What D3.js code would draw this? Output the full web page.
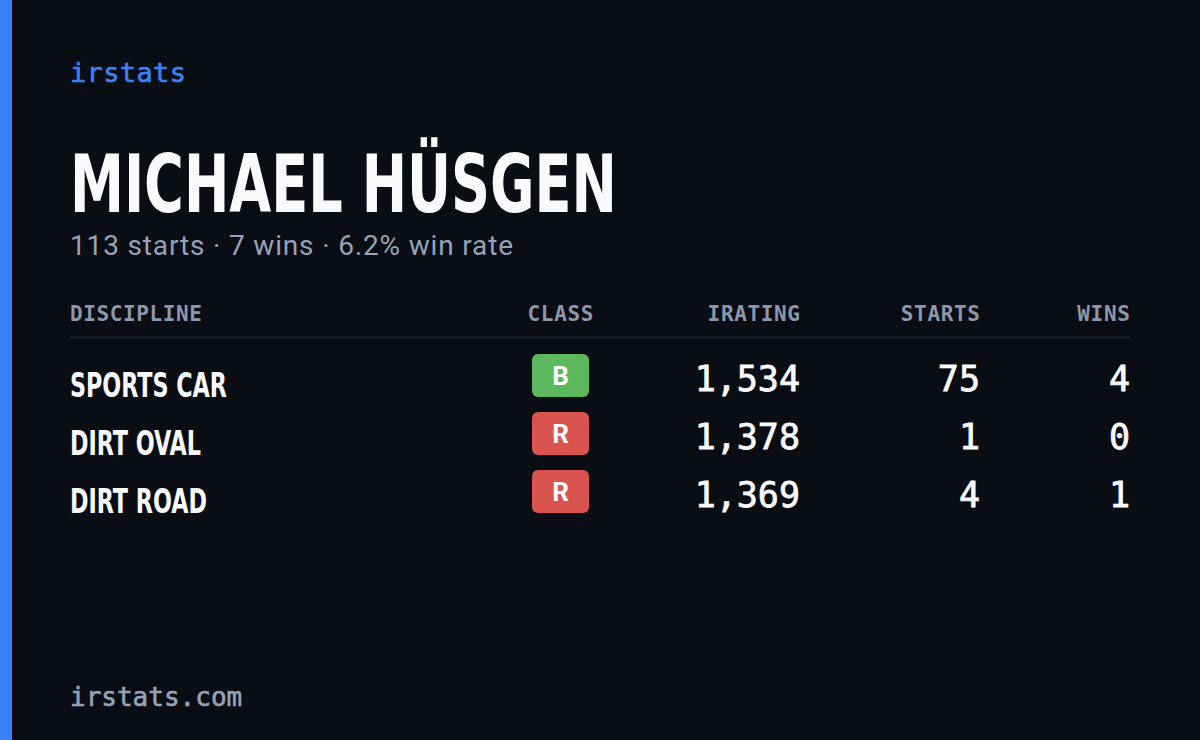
<!DOCTYPE html>
<html><head><meta charset="utf-8">
<script src="https://cdn.jsdelivr.net/npm/d3@7"></script>
<style>body{margin:0;background:#0a0d14}</style></head>
<body><script>
const brand = "irstats";
const driver = "MICHAEL HÜSGEN";
const summary = "113 starts · 7 wins · 6.2% win rate";
const headers = ["DISCIPLINE","CLASS","IRATING","STARTS","WINS"];
const disciplines = ["SPORTS CAR","DIRT OVAL","DIRT ROAD"];
const classes = ["B","R","R"];
const iratings = [1534,1378,1369];
const starts = [75,1,4];
const wins = [4,0,1];
const footer = "irstats.com";

const W=1200,H=740;
const mono="'DejaVu Sans Mono','Liberation Mono',monospace";
const cond="'Liberation Sans Narrow','DejaVu Sans Condensed',sans-serif";
const sans="Roboto,'Noto Sans',sans-serif";
const svg=d3.select("body").append("svg").attr("width",W).attr("height",H);
svg.append("rect").attr("width",W).attr("height",H).attr("fill","#0a0d14");
svg.append("rect").attr("width",12).attr("height",H).attr("fill","#3b82f6");
svg.append("text").attr("x",70).attr("y",82).text(brand).attr("font-family",mono).attr("font-size",27).attr("fill","#3b82f6").attr("stroke","#3b82f6").attr("stroke-width",0.6).attr("textLength",116);
svg.append("text").attr("x",70).attr("y",212).text(driver).attr("font-family",cond).attr("font-weight",700).attr("font-size",80).attr("fill","#f8fafc").attr("textLength",547).attr("lengthAdjust","spacingAndGlyphs");
svg.append("text").attr("x",70).attr("y",255).text(summary).attr("font-family",sans).attr("font-size",28).attr("fill","#94a3b8").attr("textLength",443);

const colX=[70,560.5,800,980,1130];
const anchors=["start","middle","end","end","end"];
headers.forEach((h,i)=>svg.append("text").attr("x",colX[i]).attr("y",321).attr("text-anchor",anchors[i]).text(h).attr("font-family",mono).attr("font-weight",700).attr("font-size",21).attr("fill","#8b98ab").attr("textLength",h.length*13.2).attr("lengthAdjust","spacing"));
svg.append("line").attr("x1",70).attr("x2",1130).attr("y1",337.5).attr("y2",337.5).attr("stroke","#1c2130").attr("stroke-width",2);

const y=d3.scaleBand().domain(disciplines).range([346,520]).paddingInner(0);
const fmt=d3.format(",");
const classColor={B:"#5cb85c",R:"#d9534f",A:"#3b82f6",C:"#f0ad4e",D:"#f97316"};
const rows=svg.selectAll("g.row").data(disciplines).join("g").attr("transform",d=>`translate(0,${y(d)})`);
rows.append("text").attr("x",70).attr("y",51).text(d=>d).attr("font-family",cond).attr("font-weight",700).attr("font-size",34).attr("fill","#f8fafc").attr("textLength",(d,i)=>[157,131,137][i]).attr("lengthAdjust","spacingAndGlyphs");
rows.append("rect").attr("x",532).attr("y",8).attr("width",57).attr("height",43).attr("rx",6).attr("fill",(d,i)=>classColor[classes[i]]);
rows.append("text").attr("x",560.5).attr("y",39).attr("text-anchor","middle").text((d,i)=>classes[i]).attr("font-family",sans).attr("font-weight",700).attr("font-size",26).attr("fill","#fff");
const vals=[iratings.map(fmt),starts,wins];
vals.forEach((arr,k)=>rows.append("text").attr("x",colX[k+2]).attr("y",45).attr("text-anchor","end").text((d,i)=>arr[i]).attr("font-family",mono).attr("font-size",35).attr("fill","#f8fafc").attr("stroke","#f8fafc").attr("stroke-width",0.8));

svg.append("text").attr("x",70).attr("y",706).text(footer).attr("font-family",mono).attr("font-size",26).attr("fill","#94a3b8").attr("stroke","#94a3b8").attr("stroke-width",0.6);
</script></body></html>
